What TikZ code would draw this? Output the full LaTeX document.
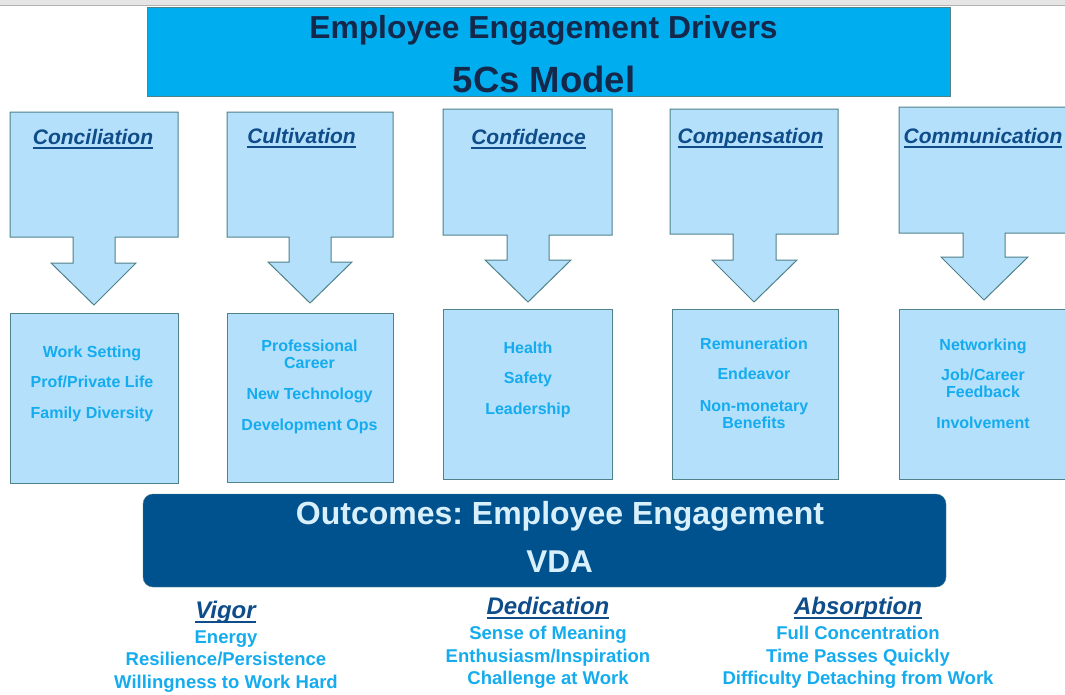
\documentclass[tikz,border=0pt]{standalone}
\usepackage{fontspec}
\setmainfont{Liberation Sans}
\usetikzlibrary{positioning}
\frenchspacing

% underlined heading with a heavier rule
\newcommand{\hdul}[1]{\setbox0\hbox{#1}\rlap{\rule[-4.5pt]{\wd0}{1.5pt}}\box0}

\definecolor{titlecyan}{HTML}{00AEEF}
\definecolor{titlenavy}{HTML}{14284B}
\definecolor{boxblue}{HTML}{B4E0FB}
\definecolor{boxedge}{HTML}{4F8289}
\definecolor{headblue}{HTML}{0E4D8A}
\definecolor{itemcyan}{HTML}{14ACEE}
\definecolor{outblue}{HTML}{00528F}
\definecolor{outtext}{HTML}{D8F0FB}

\begin{document}
\begin{tikzpicture}[x=1pt,y=-1pt,
  drvbox/.style={draw=boxedge,fill=boxblue,line width=1pt},
  drvhead/.style={text=headblue,inner sep=0pt,anchor=base,
    font=\fontsize{21}{24}\selectfont\bfseries\itshape},
  drvitem/.style={text=itemcyan,inner sep=0pt,align=center,
    font=\fontsize{16}{17}\selectfont\bfseries},
  outhead/.style={text=headblue,inner sep=0pt,anchor=base,
    font=\fontsize{24}{26}\selectfont\bfseries\itshape},
  outitem/.style={text=itemcyan,inner sep=0pt,align=center,
    font=\fontsize{18.5}{22.5}\selectfont\bfseries}]

\clip (0,0) rectangle (1065,694);
\fill[white] (0,0) rectangle (1065,694);

% window strip at the top
\fill[black!10] (0,0) rectangle (1065,5);
\draw[black!30] (0,5.5) -- (1065,5.5);

% title
\node[draw=boxedge,fill=titlecyan,minimum width=803pt,minimum height=89pt] (titlebox) at (548.5,51.5) {};
\node[text=titlenavy,inner sep=0pt,anchor=base,font=\fontsize{31.8}{33}\selectfont\bfseries] (title1) at (543.5,38) {Employee Engagement Drivers};
\node[text=titlenavy,inner sep=0pt,anchor=base,font=\fontsize{36.5}{38}\selectfont\bfseries] (title2) at (544,92) {5Cs Model};

% the five drivers, box with arrow pointing down
\draw[drvbox] (10,112) -- (178,112) -- (178,237) -- (115,237) -- (115,263) -- (136,263) -- (94,305) -- (51,263) -- (73,263) -- (73,237) -- (10,237) -- cycle;
\draw[drvbox] (227,112) -- (393,112) -- (393,237) -- (331,237) -- (331,262) -- (352,262) -- (310,303) -- (268,262) -- (289,262) -- (289,237) -- (227,237) -- cycle;
\draw[drvbox] (443,109) -- (612,109) -- (612,235) -- (549,235) -- (549,260) -- (571,260) -- (528,302) -- (485,260) -- (507,260) -- (507,235) -- (443,235) -- cycle;
\draw[drvbox] (670,109) -- (838,109) -- (838,234) -- (776,234) -- (776,260) -- (797,260) -- (754,302) -- (712,260) -- (733,260) -- (733,234) -- (670,234) -- cycle;
\draw[drvbox] (899,107) -- (1068,107) -- (1068,233) -- (1005,233) -- (1005,257) -- (1028,257) -- (984,300) -- (941,257) -- (963,257) -- (963,233) -- (899,233) -- cycle;

\node[drvhead] (conc) at (93,144) {\hdul{Conciliation}};
\node[drvhead] (cult) at (301.5,143) {\hdul{Cultivation}};
\node[drvhead] (conf) at (528.5,144) {\hdul{Confidence}};
\node[drvhead] (comp) at (750.5,143) {\hdul{Compensation}};
\node[drvhead] (comm) at (983,143) {\hdul{Communication}};

% what each driver covers
\node[drvbox,minimum width=168pt,minimum height=170pt] (concbox) at (94,398) {};
\node[drvbox,minimum width=166pt,minimum height=169pt] (cultbox) at (310,397.5) {};
\node[drvbox,minimum width=169pt,minimum height=170pt] (confbox) at (527.5,394) {};
\node[drvbox,minimum width=166pt,minimum height=170pt] (compbox) at (755,394) {};
\node[drvbox,minimum width=169pt,minimum height=170pt] (commbox) at (983.5,394) {};

\node[drvitem] (concitems) at (92,383.5) {Work Setting\\[13.5pt]Prof/Private Life\\[13.5pt]Family Diversity};
\node[drvitem] (cultitems) at (309.5,386.5) {Professional\\Career\\[14pt]New Technology\\[14pt]Development Ops};
\node[drvitem] (confitems) at (528,379.5) {Health\\[13.5pt]Safety\\[13.5pt]Leadership};
\node[drvitem] (compitems) at (754,383.5) {Remuneration\\[13pt]Endeavor\\[15pt]Non-monetary\\Benefits};
\node[drvitem] (commitems) at (983,383.5) {Networking\\[13pt]Job/Career\\Feedback\\[14pt]Involvement};

% outcomes
\node[draw=boxedge,fill=outblue,rounded corners=10pt,minimum width=803pt,minimum height=93pt] (outbox) at (544.5,540.5) {};
\node[text=outtext,inner sep=0pt,anchor=base,font=\fontsize{32}{33}\selectfont\bfseries] (out1) at (560,524) {Outcomes: Employee Engagement};
\node[text=outtext,inner sep=0pt,anchor=base,font=\fontsize{31.5}{33}\selectfont\bfseries] (out2) at (559.5,572) {VDA};

\node[outhead] (vigor) at (225.5,618) {\hdul{Vigor}};
\node[outitem] (vigoritems) at (226,661.5) {Energy\\Resilience/Persistence\\Willingness to Work Hard};
\node[outhead] (dedic) at (548,614) {\hdul{Dedication}};
\node[outitem] (dedicitems) at (548,657.5) {Sense of Meaning\\Enthusiasm/Inspiration\\Challenge at Work};
\node[outhead] (absorp) at (858,614) {\hdul{Absorption}};
\node[outitem] (absorpitems) at (858,657.5) {Full Concentration\\Time Passes Quickly\\Difficulty Detaching from Work};

\end{tikzpicture}
\end{document}
